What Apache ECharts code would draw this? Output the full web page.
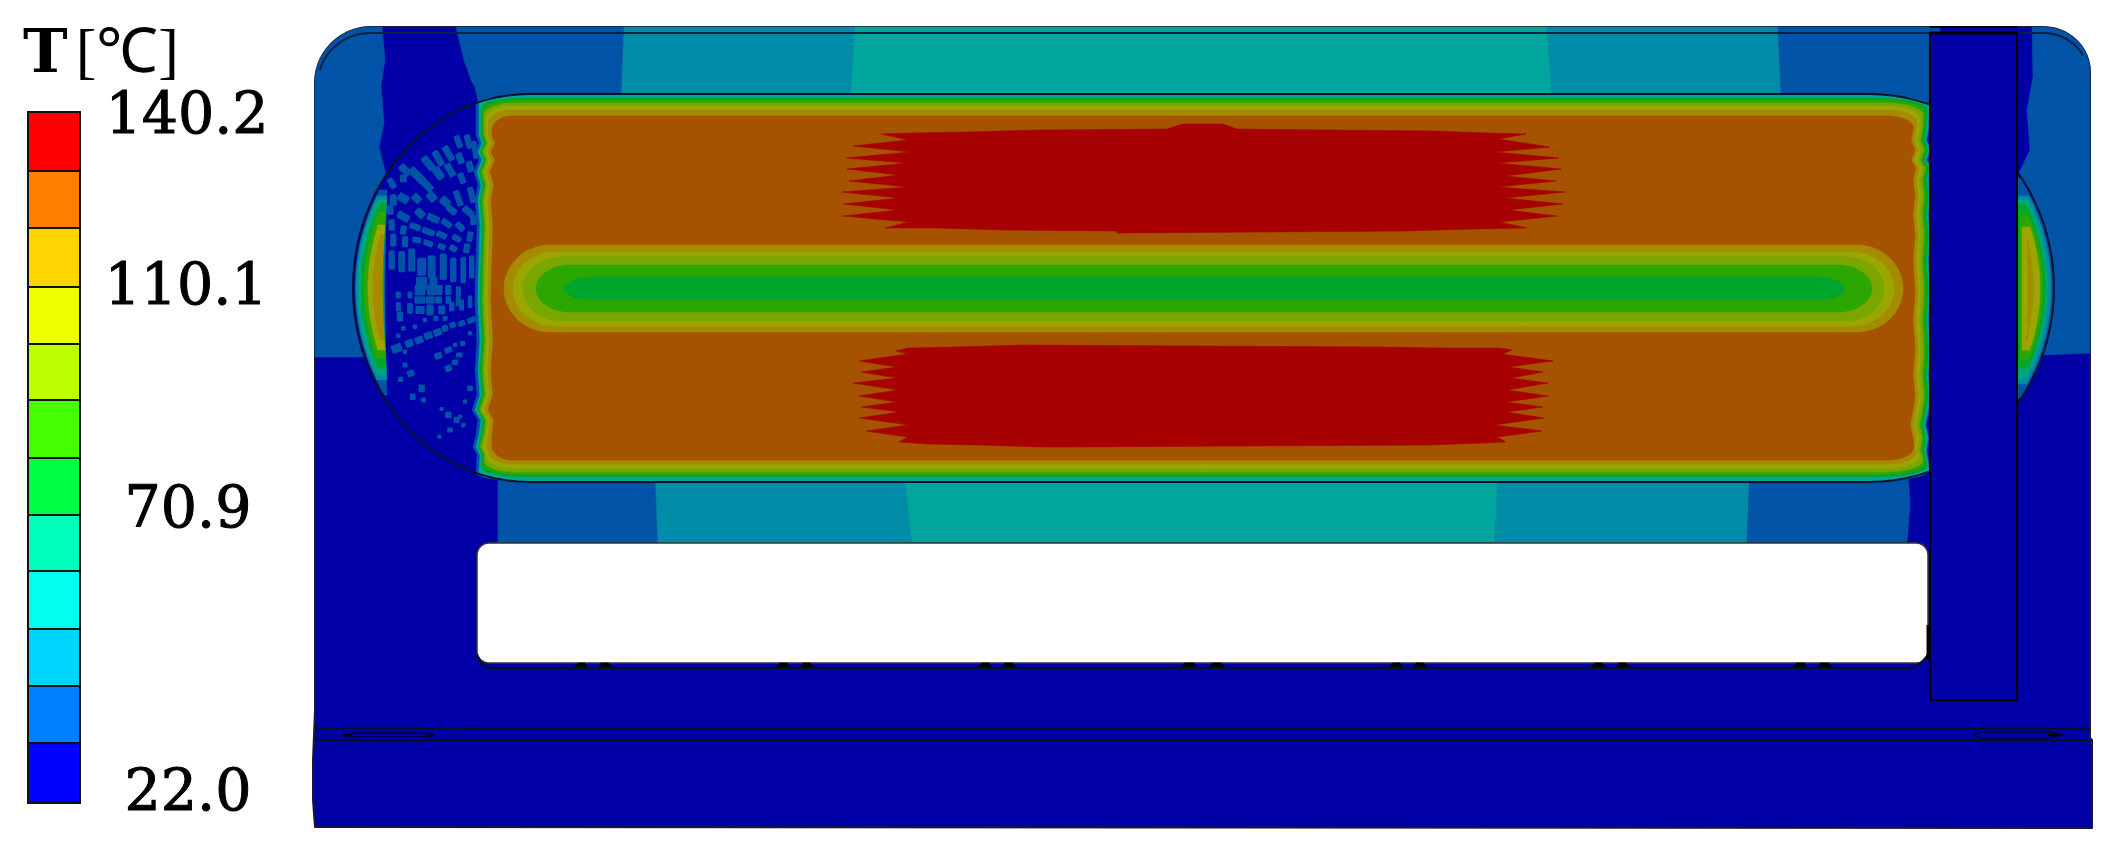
<!DOCTYPE html>
<html><head><meta charset="utf-8">
<style>html,body{margin:0;padding:0;background:#fff}#c{width:2113px;height:854px}</style>
<script src="https://cdn.jsdelivr.net/npm/echarts@6/dist/echarts.min.js"></script>
</head><body><div id="c"></div>
<script>
// ---- temperature scale ----
const legendColors = ['#FF0000','#FF8000','#FFD500','#EEFF00','#BBFF00','#44FF00','#00FF44','#00FFBB','#00FFEE','#00D5FF','#0080FF','#0000FF'];
const legendEdges = [112,171,228,287,344,400,458,515,571,629,686,743,803];
const tickLabels = ['140.2','110.1','70.9','22.0'];
const tickX = [187,186,188,188];
const tickY = [118,289,512,795];
// contour colours of the model, by band number (0 = 22.0 ... 11 = 140.2)
const bandColors = ['#0000A6','#0053A6','#008BA6','#00A69B','#00A67A','#00A62C','#2CA600','#7AA600','#9BA600','#A68B00','#A65300','#A60000'];

// ---- temperature zones in the housing: [band, [x,y]...] ----
const zonesUpper = [
 [1,[[382,27],[385,60],[381,85],[384,123],[379,147],[386,175],[420,357],[315,357],[315,83]]],
 [1,[[456,27],[464,60],[471,80],[475,87],[479,105],[621,105],[624,27]]],
 [2,[[624,27],[855,27],[850,105],[621,105]]],
 [3,[[855,27],[1547,27],[1553,105],[850,105]]],
 [2,[[1547,27],[1778,27],[1782,105],[1553,105]]],
 [1,[[1778,27],[1940,27],[1940,112],[1782,112]]],
 [1,[[2032,27],[2033,77],[2027,110],[2030,150],[2018,175],[2000,200],[2000,355],[2043,355],[2090,353],[2090,72]]]
];
const zonesLower = [
 [1,[[498,470],[498,543],[658,543],[655,470]]],
 [2,[[655,470],[658,543],[912,543],[904,470]]],
 [3,[[904,470],[912,543],[1495,543],[1498,470]]],
 [2,[[1498,470],[1495,543],[1747,543],[1750,470]]],
 [1,[[1750,470],[1747,543],[1907,543],[1910,505],[1908,470]]]
];
const mottleUpper = [
 [265,65,10,30,-20],[295,65,10,35,-15],[315,90,8,45,-10],[235,100,12,40,-30],[205,115,12,40,-30],[270,115,12,25,-20],[300,140,12,25,-15],
 [175,130,14,40,-40],[140,165,16,45,-45],[105,150,14,30,-45],[205,160,16,30,-35],[240,150,12,35,-30],[275,175,10,25,-20],[170,195,14,35,-45],
 [100,175,12,14,0],[65,190,10,25,-30],[100,235,25,16,30],[70,240,12,25,0],[140,235,14,20,-45],[185,230,16,22,-40],[225,245,22,16,40],
 [265,235,10,40,-20],[305,225,10,40,-15],[245,270,25,12,40],[295,275,30,12,40],[100,290,30,14,30],[150,280,14,22,-45],[60,270,12,20,0],
 [190,295,30,12,25],[230,310,25,10,35],[270,320,22,10,45],[310,300,10,22,0],[65,315,10,25,0],[100,330,10,20,10],[135,320,25,10,20],
 [175,335,30,10,20],[215,345,24,10,25],[260,355,20,9,30],[300,350,10,22,10],[70,360,10,30,0],[105,365,10,25,0],[140,360,18,9,10],
 [175,370,20,9,20],[215,380,15,9,25],[250,385,15,9,30],[290,385,10,20,10],[65,420,10,50,0],[95,425,12,55,0],[125,420,12,60,0],
 [155,440,18,45,0],[185,440,15,60,0],[220,440,12,70,0],[250,450,10,65,0],[280,450,8,70,0],[305,440,8,60,0],[155,490,25,30,0],[190,490,15,30,0]
];
const mottleLower = [
 [150,15,25,25,0],[185,15,20,25,0],[205,15,18,22,0],[150,45,25,15,0],[180,45,18,15,0],[205,45,16,14,0],[235,15,12,22,0],[235,45,10,15,0],
 [265,20,8,25,0],[265,50,8,20,0],[85,30,8,14,0],[120,30,8,14,0],[85,65,8,20,0],[120,70,10,25,0],[90,95,12,22,0],[150,75,20,16,0],
 [180,75,14,25,0],[215,75,14,20,0],[245,65,8,20,0],[275,60,8,25,0],[300,50,6,30,0],[305,105,20,10,-20],[275,115,14,10,-20],[248,120,12,10,-20],
 [225,130,12,12,-20],[203,142,18,14,-20],[175,152,18,14,-20],[147,165,18,14,-20],[118,175,18,16,-20],[80,190,24,18,-20],[205,212,16,12,-20],
 [235,195,16,10,-20],[268,210,12,8,0],[255,232,12,8,0],[235,250,14,12,-20],[122,265,14,12,-20],[105,240,8,8,0],[92,283,8,8,0],[155,310,12,16,0],
 [128,335,10,12,0],[160,345,8,8,0],[300,310,10,10,0],[235,390,12,12,0],[260,405,10,12,0],[240,435,10,8,0],[280,420,6,6,0],[208,455,5,5,0],
 [105,200,6,6,0],[85,152,6,6,0],[165,105,6,6,0],[198,100,8,8,0],[225,100,8,8,0],[255,180,6,6,0],[278,175,8,8,0],[300,145,6,6,0],[100,130,6,6,0],
 [135,125,6,6,0],[285,350,5,5,0],[215,372,5,5,0],[270,395,5,5,0]
];
// ---- nested contours of the hot core: [band, x0,y0,x1,y1, rx,ry, rxRight,ryRight] ----
const coreContours = [
 [1,476,95,1930,481,54,8,62,11],[3,479,95,1929,481,52,8,60,11],[5,481,98,1927,477,44,10,52,11],[6,482.5,100,1925,474.5,38,11,44,12],
 [7,484,103,1923,472,32,12,38,12],[8,486,106,1920,468,26,13,32,13],[9,488.5,110,1917,464,22,14,28,13],[10,492,116,1914,460,20,14,26,13]
];
// jitter of the core's end fronts: [y, dx]
const jitterLeft = [[135,0],[143,3],[152,-1],[160,3],[172,-2],[185,2],[200,-1],[225,1],[260,0],[300,-1],[340,1],[370,-1],[395,1],[410,-4],[420,2],[435,0],[447,-3],[455,1]];
const jitterRight = [[130,-1],[140,-3],[150,1],[160,-3],[168,2],[180,-1],[195,1],[215,-1],[235,1],[260,-1],[290,1],[320,-1],[350,1],[375,-1],[395,1],[410,-1],[425,-4],[438,-1],[450,-3]];
// ---- crescents hugging the end arcs: [band, inset, topY, botY, innerX, innerBow] ----
const lensLeft = [
 [1,2,190,395,387,-2],[2,3,196,380,387,-3],[4,5,200,375,386,-3],[5,8,204,368,386,-3],[6,11,212,358,385.5,-3],[8,15,225,350,385,-3],[9,20,235,340,384,-2]
];
const lensRight = [
 [1,1,178,398,2017,0],[2,3,196,384,2017,0],[4,6,200,378,2017,0],[5,9,205,368,2018,0],[6,11,215,360,2020,0],[8,14,227,350,2022,0],[9,21,240,340,2028,0]
];
// ---- cooling channel contours: [band, x0,y0,x1,y1, rx,ry] ----
const channelContours = [
 [9,504,245,1903,332,46,43.5],[8,513,252,1894,326,42,37],[7,523,257,1884,321,38,32],[6,536,265,1872,312,34,23.5],[5,564,277,1845,300,30,11.5]
];
// ---- 140.2 band patches ----
const hotUpper = [[881,134],[914,133],[967,132],[1037,130],[1167,129],[1183,124],[1223,124],[1237,129],[1435,131],[1488,133],
 [1526,134],[1498,139],[1550,147],[1495,152],[1559,158],[1497,163],[1561,169],[1505,176],[1556,181],[1498,187],[1565,192],[1505,198],[1563,204],[1508,210],[1557,216],[1499,222],[1527,228],
 [1474,229],[1405,231],[1117,233],[1117,231],[1003,230],[935,228],[885,228],
 [909,222],[843,216],[898,210],[844,204],[899,198],[842,192],[908,187],[849,181],[899,175],[847,169],[907,163],[846,158],[911,152],[853,146],[908,140]];
const hotLower = [[896,351],[908,348],[955,347],[1022,345],[1380,347],[1443,348],[1500,348],[1512,350],[1502,354],
 [1553,361],[1508,367],[1543,372],[1511,378],[1548,383],[1507,390],[1548,396],[1506,402],[1543,407],[1506,412],[1544,418],[1494,425],[1542,431],[1497,437],[1506,442],
 [1483,443],[1430,445],[1070,447],[1043,447],[977,445],[928,444],
 [899,442],[908,437],[866,431],[909,425],[859,418],[900,412],[861,407],[897,402],[859,396],[898,390],[853,383],[897,378],[861,372],[897,367],[859,361],[908,354]];
// ---- housing outlines ----
const windowBox = [477,543,1928,663,12];
const strapBox = [1930,33,2017,700];
const feetRanges = [[573,613],[775,815],[977,1017],[1180,1226],[1388,1428],[1590,1631],[1792,1833]];
const seamLines = [
 [[315,728],[466,728],[466,729],[2090,729]],
 [[315,740],[2092,740]],
 [[487,668],[1910,668],[1920,664],[1928,655]],
 [[477,655],[481,663],[487,668]]
];
const sealLeft = [[347,735],[354,733],[425,733],[433,735],[425,737],[354,737]];
const sealRight = [[1973,735],[1980,732],[2050,732],[2062,735],[2050,738],[1980,738]];

// ---- helpers working in data space ----
function arc(cx,cy,rx,ry,a0,a1,n){const o=[];for(let i=0;i<=n;i++){const a=(a0+(a1-a0)*i/n)*Math.PI/180;o.push([cx+rx*Math.cos(a),cy+ry*Math.sin(a)]);}return o;}
function contour(c,jl,jr){
 const x0=c[1],y0=c[2],x1=c[3],y1=c[4],rx=c[5],ry=c[6],rr=c[7]||rx,sr=c[8]||ry;let p=[];
 p=p.concat(arc(x1-rr,y0+sr,rr,sr,-90,0,10));
 (jr||[]).forEach(j=>{if(j[0]>y0+sr&&j[0]<y1-sr)p.push([x1+j[1],j[0]]);});
 p=p.concat(arc(x1-rr,y1-sr,rr,sr,0,90,10));
 p=p.concat(arc(x0+rx,y1-ry,rx,ry,90,180,10));
 (jl||[]).slice().reverse().forEach(j=>{if(j[0]>y0+ry&&j[0]<y1-ry)p.push([x0+j[1],j[0]]);});
 p=p.concat(arc(x0+rx,y0+ry,rx,ry,180,270,10));
 return p;
}
const LEFT={cx:529,rx:176,s:-1}, RIGHT={cx:1870,rx:184,s:1}, CY=288, RY=194;
function crescent(l,side){
 const [,d,ty,by,ix,bow]=l,p=[],rx=side.rx-d,ry=RY-d;
 for(let i=0;i<=24;i++){const y=ty+(by-ty)*i/24,u=(y-CY)/ry;p.push([side.cx+side.s*rx*Math.sqrt(Math.max(0,1-u*u)),y]);}
 for(let i=24;i>=0;i--){const t=i/24,y=ty+(by-ty)*t;p.push([ix+bow*4*t*(1-t),y]);}
 return p;
}
function cell(c,ox,oy){
 const [x,y,w,h,a]=c,r=a*Math.PI/180,cs=Math.cos(r),sn=Math.sin(r),hw=w/6,hh=h/6,cx=ox+x/3,cy=oy+y/3;
 return [[-hw,-hh],[hw,-hh],[hw,hh],[-hw,hh]].map(q=>[cx+q[0]*cs-q[1]*sn,cy+q[0]*sn+q[1]*cs]);
}
const stadium = arc(529,CY,176,RY,270,90,48).concat(arc(1870,CY,184,RY,90,-90,48));
const cornerTL = arc(371,83,56,56,180,270,14), cornerTR = arc(2043,72,47,45,-90,0,12);
const bodyOutline = [[315,827],[313,800],[313,760],[315,710]].concat(cornerTL,cornerTR,[[2090,738],[2092,740],[2092,828]]);
const innerSeam = arc(371,83,53,50,195,270,12).concat(arc(2043,72,44,39,-90,-25,10));

// ---- draw list ----
const B=bandColors, shapes=[];
const add=(pts,fill,stroke,w)=>shapes.push({pts,fill:fill||null,stroke:stroke||null,w:w||0});
add(bodyOutline.concat([[315,827]]),B[0],'#1a1a2a',2);
zonesUpper.forEach((z,i)=>{
 let pts=z[1];
 if(i===0)pts=pts.concat(cornerTL.slice().filter(q=>q[0]<382));
 if(i===zonesUpper.length-1)pts=pts.concat(cornerTR.slice().reverse().filter(q=>q[0]>2032));
 add(pts,B[z[0]]);
});
zonesLower.forEach(z=>add(z[1],B[z[0]]));
add(stadium,B[0]);
mottleUpper.forEach(c=>shapes.push({pts:cell(c,370,120),fill:B[1],stroke:B[1],w:3}));
mottleLower.forEach(c=>shapes.push({pts:cell(c,370,285),fill:B[1],stroke:B[1],w:2.5}));
lensLeft.forEach(l=>add(crescent(l,LEFT),B[l[0]]));
lensRight.forEach(l=>add(crescent(l,RIGHT),B[l[0]]));
coreContours.forEach(c=>add(contour(c,jitterLeft,jitterRight),B[c[0]]));
add(hotUpper,B[11]);add(hotLower,B[11]);
channelContours.forEach(c=>add(contour(c),B[c[0]]));
add(stadium.concat([stadium[0]]),null,'#06122a',2);
add(innerSeam,null,'#06223f',2);
// white window
{const [x0,y0,x1,y1,r]=windowBox;add(contour([0,x0,y0,x1,y1,r,r]),'#FFFFFF','#333333',1.5);}
feetRanges.forEach(f=>{const w=(f[1]-f[0]);
 add([[f[0],668],[f[0]+5,663],[f[0]+w*0.3,663],[f[0]+w*0.36,668]],'#000000');
 add([[f[1]-w*0.36,668],[f[1]-w*0.3,663],[f[1]-5,663],[f[1],668]],'#000000');});
seamLines.forEach(l=>add(l,null,'#05101f',2));
{const [x0,y0,x1,y1]=strapBox;add([[x0,y0],[x1,y0],[x1,y1],[x0,y1],[x0,y0]],B[0],'#000000',2);
 add([[x0,27],[x1,27]],null,'#000000',2);add([[x0,y0],[x1,y0]],null,'#000000',3);}
add([[1928,625],[1928,660]],null,'#000000',3);
add(sealLeft.concat([sealLeft[0]]),null,'#000000',1.2);
add(sealRight.concat([sealRight[0]]),null,'#000000',1.2);
add([[343,735],[352,735]],null,'#000000',3);add([[428,735],[433,735]],null,'#000000',3);
add([[2048,735],[2062,735]],null,'#000000',2);

const legendCells = legendColors.map((c,i)=>({c,y0:legendEdges[i],y1:legendEdges[i+1]}));
const legendX=[28,80];

const chart=echarts.init(document.getElementById('c'),null,{renderer:'canvas'});
chart.setOption({
 animation:false,backgroundColor:'#fff',
 grid:{left:0,top:0,right:0,bottom:0,containLabel:false},
 xAxis:{type:'value',min:0,max:2113,show:false},
 yAxis:{type:'value',min:0,max:854,inverse:true,show:false},
 series:[
  {type:'custom',name:'model',coordinateSystem:'cartesian2d',silent:true,clip:false,progressive:0,
   data:shapes.map((s,i)=>[i,0]),
   renderItem(p,api){
    const s=shapes[p.dataIndex],pts=s.pts.map(q=>api.coord(q));
    return {type:s.fill?'polygon':'polyline',shape:{points:pts},style:s.fill?{fill:s.fill,stroke:s.stroke||s.fill,lineWidth:s.stroke?s.w:0.6,lineJoin:'round'}:{fill:null,stroke:s.stroke,lineWidth:s.w}};
   }},
  {type:'custom',name:'legend',coordinateSystem:'cartesian2d',silent:true,clip:false,progressive:0,
   data:legendCells.map((c,i)=>[i,0]),
   renderItem(p,api){
    const c=legendCells[p.dataIndex],a=api.coord([legendX[0],c.y0]),b=api.coord([legendX[1],c.y1]);
    return {type:'rect',shape:{x:a[0],y:a[1],width:b[0]-a[0],height:b[1]-a[1]},style:{fill:c.c,stroke:'#111',lineWidth:2}};
   }},
  {type:'custom',name:'labels',coordinateSystem:'cartesian2d',silent:true,clip:false,progressive:0,
   data:tickLabels.map((t,i)=>[tickX[i],tickY[i]]),
   renderItem(p,api){
    const a=api.coord([api.value(0),api.value(1)]);
    return {type:'text',x:a[0],y:a[1],style:{text:tickLabels[p.dataIndex],fill:'#000',stroke:'#000',lineWidth:1,font:'57px "DejaVu Serif",serif',align:'center',verticalAlign:'middle'}};
   }},
  {type:'custom',name:'title',coordinateSystem:'cartesian2d',silent:true,clip:false,progressive:0,
   data:[[23,56]],
   renderItem(p,api){
    const a=api.coord([api.value(0),api.value(1)]);
    return {type:'text',x:a[0],y:a[1],style:{text:'{t|T}{u|[℃]}',align:'left',verticalAlign:'middle',fill:'#000',
      rich:{t:{fontFamily:'DejaVu Serif',fontWeight:'bold',fontSize:60,padding:[0,8,0,0],fill:'#000'},u:{fontFamily:'Liberation Serif',fontSize:62,fill:'#000'}}}};
   }}
 ]
});
</script></body></html>
